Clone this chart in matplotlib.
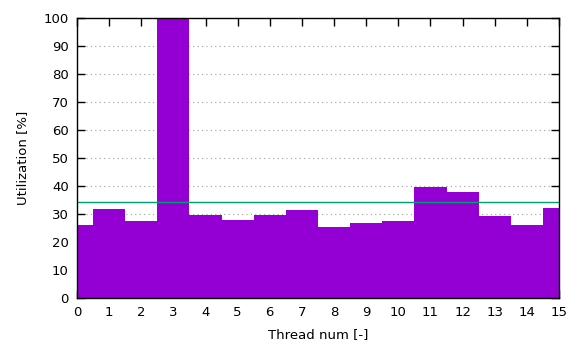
import matplotlib
matplotlib.use("Agg")
import matplotlib.pyplot as plt
import numpy as np

threads = list(range(16))
utilization = [26.1, 31.8, 27.4, 100.0, 29.8, 28.0, 29.8, 31.3,
               25.4, 26.8, 27.6, 39.6, 38.0, 29.4, 26.0, 32.0]
average = 34.2
x_ticks = list(range(16))
y_ticks = list(range(0, 101, 10))

plt.rcParams['font.family'] = ['DejaVu Sans']
fig = plt.figure(figsize=(5.77, 3.47), dpi=100)
ax = fig.add_axes([77/577, 1-298/347, (559-77)/577, (298-18)/347])

ax.bar(threads, utilization, width=1.0, color='#9400D3', linewidth=0, zorder=2)
ax.axhline(average, color='#009E73', linewidth=1.0, zorder=3)

ax.set_xlim(0, 15)
ax.set_ylim(0, 100)
ax.set_xticks(x_ticks)
ax.set_yticks(y_ticks)
ax.yaxis.grid(True, linestyle=(0, (1, 3)), color='#a0a0a0', linewidth=0.8, zorder=0)
ax.set_axisbelow(True)
ax.tick_params(direction='in', top=True, right=True, length=5.5, width=1,
               labelsize=9.5, colors='black', pad=6)
for s in ax.spines.values():
    s.set_linewidth(1.0)
    s.set_zorder(5)
ax.set_xlabel('Thread num [-]', fontsize=9.5, labelpad=6)
ax.set_ylabel('Utilization [%]', fontsize=9.5, labelpad=10.5)

fig.savefig('out.png', dpi=100)
